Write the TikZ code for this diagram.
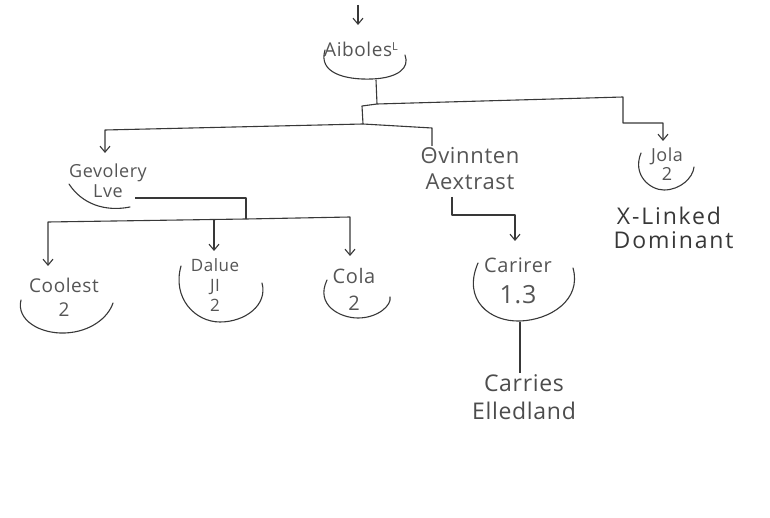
\documentclass[tikz,border=0pt]{standalone}
\usepackage{fontspec}
\setmainfont{Open Sans}[LetterSpace=3]
\usepackage{xcolor}
\usetikzlibrary{arrows.meta,positioning}
\definecolor{ink}{HTML}{383838}
\definecolor{pencil}{HTML}{555555}

\begin{document}
\begin{tikzpicture}[x=1pt,y=-1pt,>={Straight Barb[length=6pt,width=10pt]},
	lbl/.style={text=pencil,font=\fontsize{19}{21}\selectfont,inner sep=1pt,align=center},
	link/.style={draw=ink,line width=1.1pt,line join=round},
	bowl/.style={draw=ink,line width=1.1pt,line cap=round}]
		\useasboundingbox[fill=white] (0,0) rectangle (770,518);

		% labels
		\node[lbl,font=\fontsize{19}{20}\selectfont] (aib) at (361,49) {Aiboles\raisebox{.6ex}{\fontsize{11}{12}\selectfont L}};
		\node[lbl,font=\fontsize{18}{20}\selectfont] (gev) at (108,181) {Gevolery\\Lve\hspace{.8em}};
		\node[lbl,font=\fontsize{19}{24}\selectfont] (coo) at (64,297) {Coolest\\2\hspace{.8em}};
		\node[lbl,font=\fontsize{17}{20}\selectfont] (dal) at (215,285) {Dalue\\JI\hspace{.2em}\\2};
		\node[lbl,font=\fontsize{20}{27}\selectfont] (cola) at (354,289) {Cola\\2\hspace{.7em}};
		\node[lbl,font=\fontsize{22}{26}\selectfont] (qvi) at (470,169) {Θvinnten\\Aextrast};
		\node[lbl,font=\fontsize{20}{31}\selectfont] (car) at (518,281) {Carirer\\{\fontsize{25}{26}\selectfont 1.3}\hspace{.6em}};
		\node[lbl,font=\fontsize{23}{28}\selectfont,text=ink!90] (cel) at (524,397) {Carries\hspace{.4em}\\Elledland};
		\node[lbl,font=\fontsize{18}{19}\selectfont] (jola) at (667,164) {Jola\\2};
		\node[lbl,text=ink,font=\fontsize{23}{24}\selectfont\addfontfeature{LetterSpace=8}] (xld) at (669,228) {X-Linked\\\hspace{.4em}Dominant};

		% joints
		\coordinate (top) at (358,5);
		\coordinate (ain) at (358,25);
		\coordinate (aiB) at (376,80);
		\coordinate (j1) at (377,104);
		\coordinate (j2) at (363,124);
		\coordinate (jg) at (246,219);
		\coordinate (carB) at (520,322);

		% bowls
		\draw[bowl] (325,50) .. controls (318,73) and (345,80) .. (372,79) .. controls (398,78) and (410,68) .. (405,55);
		\draw[bowl] (69,184) .. controls (82,204) and (105,212) .. (130,207);
		\draw[bowl] (21,300) .. controls (16,320) and (40,334) .. (65,333) .. controls (90,332) and (108,318) .. (113,303);
		\draw[bowl] (181,266) .. controls (172,298) and (195,322) .. (220,322) .. controls (245,322) and (268,305) .. (262,283);
		\draw[bowl] (327,280) .. controls (315,305) and (340,318) .. (358,318) .. controls (378,318) and (392,305) .. (390,297);
		\draw[bowl] (478,263) .. controls (462,300) and (490,322) .. (520,321) .. controls (550,320) and (582,300) .. (573,268);
		\draw[bowl] (641,153) .. controls (632,175) and (650,190) .. (664,190) .. controls (680,190) and (693,178) .. (694,167);

		% connectors
		\draw[link,->] (top) -- (ain);
		\draw[link] (aiB) -- (j1);
		\draw[link,->] (j1) -- (623,97) -- (623,123) -- (663,123) -- (663,141);
		\draw[link] (j1) -- (362,106) -- (j2);
		\draw[link,->] (j2) -- (105,130) -- (105,153);
		\draw[link] (j2) -- (432,128) -- (432,146);
		\draw[link] (135,198) -- (246,198) -- (jg);
		\draw[link,->] (jg) -- (48,222) -- (48,266);
		\draw[link,->] (jg) -- (350,217) -- (350,256);
		\draw[link,->] (214,220) -- (214,251);
		\draw[link,->] (452,197) -- (452,215) -- (515,215) -- (515,241);
		\draw[link] (carB) -- (cel.north -| carB);
\end{tikzpicture}
\end{document}
